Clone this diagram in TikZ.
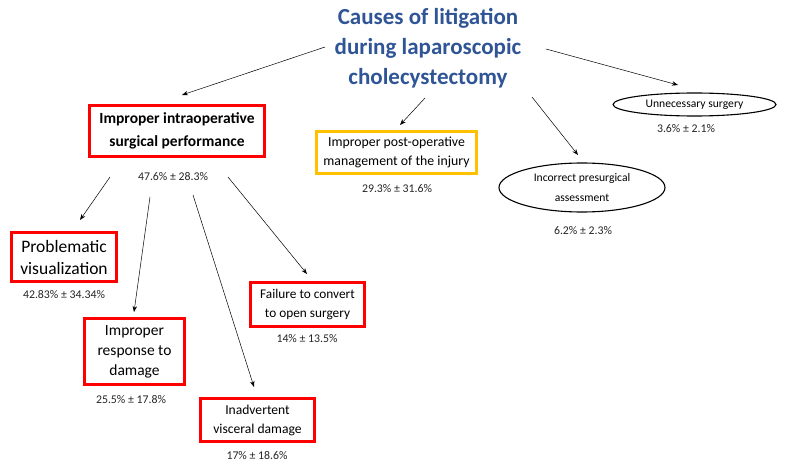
\documentclass[tikz,border=0pt]{standalone}
\usepackage{fontspec}
\setmainfont{Carlito}
\usetikzlibrary{shapes.geometric,arrows.meta}
\definecolor{titleblue}{RGB}{47,85,151}
\definecolor{boxred}{RGB}{255,0,0}
\definecolor{boxyellow}{RGB}{255,192,0}
\begin{document}
\begin{tikzpicture}[x=1pt,y=-1pt,
  redbox/.style={draw=boxred, line width=2.6pt, align=center, inner sep=0pt},
  ybox/.style={draw=boxyellow, line width=2.6pt, align=center, inner sep=0pt},
  ell/.style={ellipse, draw, line width=1.1pt, align=center, inner sep=0pt},
  pct/.style={font=\fontsize{11.8}{13}\selectfont, text=black!85},
  arr/.style={-{Stealth[length=6pt,width=4.5pt]}, line width=0.5pt}]
\useasboundingbox (0,0) rectangle (785,468);
\fill[white] (0,0) rectangle (785,468);

\node[text=titleblue, font=\bfseries\fontsize{23}{30}\selectfont, align=center] (title) at (428,48)
  {Causes of litigation\\during laparoscopic\\cholecystectomy};

% main branches
\node[redbox, minimum width=175pt, minimum height=51pt,
  font=\bfseries\fontsize{15.5}{23}\selectfont] (intra) at (177,131)
  {Improper intraoperative\\surgical performance};
\node[pct] (pintra) at (173,177) {47.6\% ± 28.3\%};

\node[ybox, minimum width=160pt, minimum height=42pt,
  font=\fontsize{13.8}{19}\selectfont] (post) at (396.5,152.5)
  {Improper post-operative\\management of the injury};
\node[pct] (ppost) at (397,189) {29.3\% ± 31.6\%};

\node[ell, minimum width=163pt, minimum height=23pt,
  font=\fontsize{11.6}{13}\selectfont] (unnec) at (694.5,104.5) {Unnecessary surgery};
\node[pct] (punnec) at (686,129) {3.6\% ± 2.1\%};

\node[ell, minimum width=166pt, minimum height=49pt,
  font=\fontsize{11.6}{20}\selectfont] (presurg) at (582,187.5)
  {Incorrect presurgical\\assessment};
\node[pct] (ppresurg) at (583,231) {6.2\% ± 2.3\%};

% sub branches
\node[redbox, minimum width=105pt, minimum height=49pt,
  font=\fontsize{17.5}{22}\selectfont] (visu) at (64,257)
  {Problematic\\visualization};
\node[pct] (pvisu) at (64,295) {42.83\% ± 34.34\%};

\node[redbox, minimum width=100pt, minimum height=66pt,
  font=\fontsize{15.5}{20}\selectfont] (resp) at (134.5,351.5)
  {Improper\\response to\\damage};
\node[pct] (presp) at (131,400) {25.5\% ± 17.8\%};

\node[redbox, minimum width=114pt, minimum height=43pt,
  font=\fontsize{13.6}{19}\selectfont] (visc) at (257.5,420)
  {Inadvertent\\visceral damage};
\node[pct] (pvisc) at (257,456) {17\% ± 18.6\%};

\node[redbox, minimum width=114pt, minimum height=44pt,
  font=\fontsize{13.3}{19}\selectfont] (fail) at (307.5,304.5)
  {Failure to convert\\to open surgery};
\node[pct] (pfail) at (307,339) {14\% ± 13.5\%};

% connector end points
\coordinate (s1) at (325,47);  \coordinate (e1) at (182,95);
\coordinate (s2) at (425,98);  \coordinate (e2) at (400,125);
\coordinate (s3) at (532,97);  \coordinate (e3) at (578,155);
\coordinate (s4) at (546,49);  \coordinate (e4) at (678,85);
\coordinate (s5) at (110,177); \coordinate (e5) at (80,220);
\coordinate (s6) at (150,197); \coordinate (e6) at (134,312);
\coordinate (s7) at (193,195); \coordinate (e7) at (254,387);
\coordinate (s8) at (228,177); \coordinate (e8) at (307,274);

\draw[arr] (s1) -- (e1);
\draw[arr] (s2) -- (e2);
\draw[arr] (s3) -- (e3);
\draw[arr] (s4) -- (e4);
\draw[arr] (s5) -- (e5);
\draw[arr] (s6) -- (e6);
\draw[arr] (s7) -- (e7);
\draw[arr] (s8) -- (e8);
\end{tikzpicture}
\end{document}
